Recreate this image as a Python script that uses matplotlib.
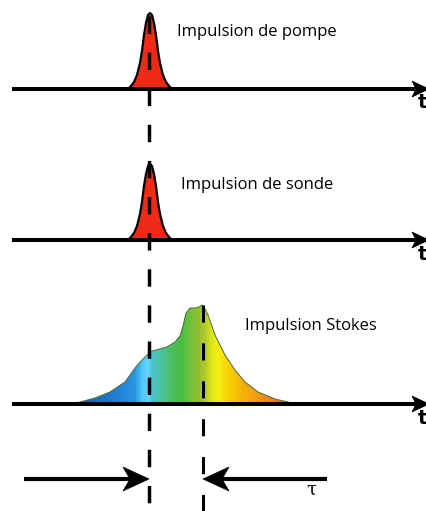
import numpy as np
import matplotlib
matplotlib.use("Agg")
import matplotlib.pyplot as plt
from matplotlib.colors import LinearSegmentedColormap
from matplotlib.patches import Polygon

# ---- data ----
# pump / probe pulse: time offset from centre and amplitude
pulse_t = [-22, -19, -16, -13, -10, -8, -6, -4, -2, 0, 2, 4, 6, 8, 10, 13, 16, 19, 22]
pulse_amp = [0, 3, 7, 14, 26, 38, 54, 66, 74, 76, 74, 66, 54, 38, 26, 14, 7, 3, 0]
pump_centre = 150
probe_centre = 150

# Stokes pulse: absolute time and amplitude
stokes_t = [70, 80, 95, 110, 125, 135, 140, 147, 152, 167, 175, 180, 183, 186, 190,
            195, 199, 202, 205, 208, 215, 225, 235, 245, 258, 275, 288, 295]
stokes_amp = [0, 2, 6, 12, 22, 36, 42, 49, 53, 57, 62, 68, 78, 91, 96,
              96, 97, 99, 95, 89, 69, 49, 34, 22, 12, 5, 2, 0]

# spectral colours along the Stokes pulse (position in time, colour)
stokes_color_t = [70, 110, 135, 142, 148, 152, 162, 172, 182, 190, 198, 205, 211,
                  218, 228, 242, 257, 274, 295]
stokes_color_c = ["#1a55b0", "#1e78cc", "#2a95e2", "#50c8f8", "#62d4ff", "#48c4cc",
                  "#4cc49a", "#4cc060", "#48bc40", "#72c23c", "#8ebf34", "#b2c82c",
                  "#d8e41c", "#f6f010", "#f8d406", "#f6b406", "#f49a12", "#f07822",
                  "#e85a28"]

labels = ["Impulsion de pompe", "Impulsion de sonde", "Impulsion Stokes"]
axis_label = "t"
delay_label = "τ"
stokes_peak_t = 203

# ---- layout ----
W, H = 427, 511
fig = plt.figure(figsize=(W / 100, H / 100), dpi=100)
ax = fig.add_axes([0, 0, 1, 1])
ax.set_xlim(0, W)
ax.set_ylim(H, 0)
ax.axis("off")

axis_y = [89, 240, 404]
lw_axis = 2.9


def head(tip_x, y, direction, length, half_w, notch, z=5):
    d = direction
    pts = [(tip_x, y), (tip_x - d * length, y - half_w),
           (tip_x - d * (length - notch), y), (tip_x - d * length, y + half_w)]
    ax.add_patch(Polygon(pts, closed=True, facecolor="black", edgecolor="black",
                         lw=0.5, zorder=z))


def time_axis(y):
    ax.plot([12, 418], [y, y], color="black", lw=lw_axis, solid_capstyle="butt", zorder=3)
    head(429, y, 1, 17, 8, 4)
    ax.text(427, y + 14, axis_label, fontsize=14, fontweight="bold",
            ha="right", va="center", family="DejaVu Sans")


red = "#ef2a17"
for yb, c in zip(axis_y[:2], [pump_centre, probe_centre]):
    xs = np.array(pulse_t) + c
    ys = yb - np.array(pulse_amp)
    ax.fill_between(xs, ys, yb, color=red, lw=0, zorder=1)
    ax.plot(xs, ys, color="black", lw=1.6, zorder=2, solid_joinstyle="round")

# Stokes gradient
sx = np.array(stokes_t, dtype=float)
sy = axis_y[2] - np.array(stokes_amp, dtype=float)
pos = (np.array(stokes_color_t) - sx[0]) / (sx[-1] - sx[0])
cmap = LinearSegmentedColormap.from_list("stokes", list(zip(pos, stokes_color_c)))
grad = np.linspace(0, 1, 512)[None, :]
im = ax.imshow(grad, cmap=cmap, extent=[sx[0], sx[-1], axis_y[2], sy.min() - 1],
               aspect="auto", zorder=1, interpolation="bilinear")
poly = Polygon(np.column_stack([np.r_[sx, sx[-1], sx[0]],
                                np.r_[sy, axis_y[2], axis_y[2]]]),
               closed=True, transform=ax.transData, facecolor="none", edgecolor="none")
ax.add_patch(poly)
im.set_clip_path(poly)
ax.plot(sx, sy, color="#4a6a3a", lw=0.7, zorder=2)
ax.set_xlim(0, W)
ax.set_ylim(H, 0)

for y in axis_y:
    time_axis(y)

# dashed vertical lines
ax.plot([pump_centre - 1, pump_centre - 1], [16, H + 5], color="black", lw=2.5,
        linestyle=(0, (5.0, 5.4)), zorder=4)
ax.plot([stokes_peak_t, stokes_peak_t], [305, H + 5], color="black", lw=2.2,
        linestyle=(0, (5.6, 6.8)), zorder=4)

# texts
font = "Open Sans"
ax.text(177, 32, labels[0], fontsize=12, family=font, va="center", ha="left")
ax.text(181, 185, labels[1], fontsize=12, family=font, va="center", ha="left")
ax.text(245, 326, labels[2], fontsize=12, family=font, va="center", ha="left")

# delay arrows
ay = 479
ax.plot([24, 130], [ay, ay], color="black", lw=3, solid_capstyle="butt", zorder=3)
head(149, ay, 1, 26, 12, 7)
ax.plot([327, 222], [ay, ay], color="black", lw=3, solid_capstyle="butt", zorder=3)
head(203, ay, -1, 26, 12, 7)
ax.text(311, 490, delay_label, fontsize=13, family="DejaVu Serif", ha="center", va="center")

fig.savefig("out.png", dpi=100)
